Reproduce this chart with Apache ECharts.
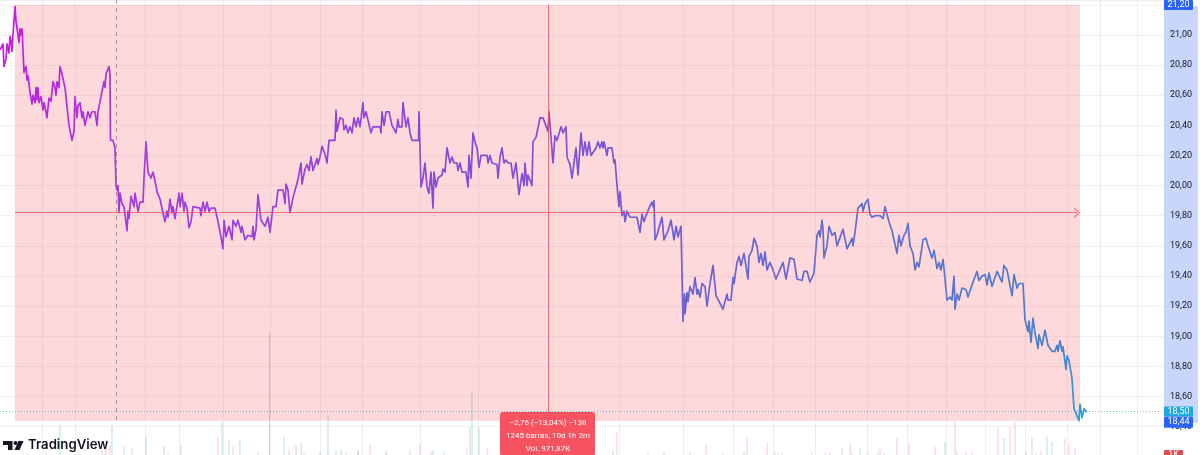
<!DOCTYPE html>
<html><head><meta charset="utf-8">
<style>html,body{margin:0;padding:0;background:#fff}#c{width:1200px;height:455px}</style>
<script src="https://cdn.jsdelivr.net/npm/echarts@6/dist/echarts.min.js"></script>
</head><body><div id="c"></div>
<script>
// [bar slot, price]
const priceTrace = [[0,20.9],[2,20.9],[3,20.94],[4,20.79],[5,20.79],[6,20.84],[7,20.94],[8,20.94],[9,20.88],[10,20.99],[11,20.96],[12,20.89],[13,21],[14,21],[15,21.19],[16,21.09],[17,21.09],[18,21],[19,20.95],[20,21.04],[21,21],[22,21.04],[23,20.9],[24,20.75],[25,20.74],[26,20.79],[27,20.7],[28,20.73],[29,20.73],[30,20.62],[32,20.54],[33,20.6],
[35,20.55],[36,20.65],[37,20.57],[38,20.65],[39,20.55],[41,20.59],[43,20.5],[44,20.55],[46,20.49],[47,20.45],[49,20.58],[51,20.56],[53,20.69],[55,20.65],[56,20.6],[57,20.69],[59,20.65],[60,20.79],[62,20.74],[63,20.74],[65,20.65],[67,20.65],[69,20.4],[71,20.39],[72,20.3],[74,20.36],[75,20.59],[77,20.45],[78,20.53],[80,20.55],[82,20.45],[83,20.49],[85,20.4],[88,20.49],[90,20.45],[92,20.49],[95,20.49],[97,20.4],[98,20.49],[100,20.49],[101,20.59],[103,20.59],[104,20.69],[105,20.65],[106,20.74],[108,20.74],[109,20.79],[110,20.74],[110.5,20.3],[113,20.3],[115,20.25],[116,20],[117,19.97],[118,20],[119,19.82],[120,19.95],[122,19.88],[124,19.86],[127,19.7],[128,19.83],[129,19.78],[131,19.93],[132,19.93],[134,19.86],[135,19.95],[138,19.83],[140,19.89],[143,19.89],[144,20.05],[146,20.29],[148,20.09],[151,20.05],[153,20.09],[154,20.09],[156,20],[157,19.96],[160,19.91],[163,19.82],[164,19.79],[165,19.76],[167,19.83],[168,19.79],[170,19.91],[172,19.82],[173,19.86],[175,19.78],[177,19.79],[179,19.95],[180,19.86],[182,19.95],[184,19.83],[185,19.89],[187,19.85],[189,19.72],[191,19.76],[193,19.86],[200,19.85],[201,19.8],[203,19.89],[205,19.83],[207,19.89],[209,19.83],[211,19.85],[215,19.85],[217,19.86],[218,19.76],[221,19.66],[223,19.58],[224,19.77],[226,19.66],[229,19.73],[232,19.64],[233,19.77],[236,19.73],[238,19.77],[241,19.69],[242,19.73],[245,19.64],[248,19.67],[252,19.66],[253,19.73],[254,19.64],[256,19.71],[258,19.94],[261,19.77],[265,19.73],[268,19.79],[270,19.69],[273,19.86],[276,19.86],[278,19.97],[283,19.97],[285,19.88],[286,20.01],[288,19.97],[290,19.82],[293,19.92],[295,19.93],[298,20.04],
[301,20.15],[302,20.01],[305,20.11],[307,20.14],[309,20.1],[311,20.19],[313,20.1],[315,20.1],[317,20.18],[318,20.14],[320,20.19],[322,20.26],[323,20.27],[325,20.21],[327,20.15],[329,20.3],[335,20.3],[336,20.5],[337,20.36],[340,20.45],[343,20.44],[344,20.37],[346,20.4],[348,20.35],[350,20.39],[352,20.35],[354,20.45],[356,20.39],[358,20.45],[360,20.39],[363,20.55],[364,20.45],[366,20.49],[368,20.49],[371,20.35],[373,20.39],[380,20.39],[381,20.35],[382,20.49],[384,20.4],[386,20.49],[389,20.49],[392,20.4],[396,20.35],[398,20.44],[399,20.39],[402,20.39],[403,20.55],[406,20.39],[408,20.45],[410,20.35],[412,20.3],[418.5,20.3],[419,20.49],[421,19.99],[423,20.05],[424,20.04],[425,20.15],[427,19.99],[429,19.95],[431,20.09],[433,19.85],[434,20.09],[436,19.99],[438,20.05],[442,20.07],[443,20.11],[445,20.09],[447,20.25],[450,20.15],[452,20.19],[454,20.15],[457,20.15],[458,20.1],[460,20.15],[462,20.09],[466,20.09],[468,19.99],[469,20.2],[471,20.05],[473,20.35],[475,20.29],[477,20.25],[479,20.12],[481,20.2],[487,20.2],[488,20.15],[490,20.2],[492,20.15],[497,20.14],[498,20.05],[500,20.19],[502,20.25],[504,20.15],[506,20.17],[508,20.15],[511,20.15],[513,20.05],[516,20.15],[519,19.94],[522,20.08],[524,20],[525,20.15],[527,20],[528,20.07],[532,20],[533,20.29],[536,20.32],[540,20.45],[543,20.45],[548,20.36],[549,20.49],[553,20.15],[555,20.33],[557,20.3],[561,20.39],[563,20.35],[566,20.39],[567,20.19],[570,20.14],[572,20.05],[576,20.25],[578,20.07],[581,20.35],[583,20.2],[585,20.29],[587,20.2],[589,20.29],[591,20.2],[593,20.2],[596,20.25],[598,20.29],
[600,20.25],[602,20.29],[603,20.25],[604,20.29],[606,20.28],[607,20.2],[608,20.25],[612,20.25],[614,20.15],[615,20.17],[617,20],[619,19.86],[620,19.96],[621,19.97],[622,19.8],[624,19.83],[625,19.76],[627,19.83],[628,19.83],[630,19.79],[633,19.79],[635,19.8],[637,19.79],[640,19.69],[642,19.81],[644,19.76],[646,19.8],[647,19.79],[649,19.85],[652,19.89],[653,19.86],[654,19.9],[655,19.64],[657,19.67],[659,19.66],[661,19.77],[662,19.79],[664,19.64],[668,19.7],[671,19.77],[674,19.64],[676,19.73],[678,19.66],[681,19.73],[682,19.73],[683,19.1],[684.5,19.28],[685,19.15],[687,19.29],[688,19.23],[690,19.33],[693,19.28],[695,19.39],[697,19.28],[698,19.31],[700,19.26],[702,19.35],[705,19.33],[707,19.2],[710,19.35],[713,19.47],[716,19.27],[718,19.26],[723,19.18],[727,19.28],[728,19.24],[731,19.24],[733,19.39],[734,19.35],[737,19.49],[739,19.53],[741,19.47],[744,19.55],[746,19.55],[748,19.38],[749,19.53],[752,19.57],[754,19.65],[757,19.6],[759,19.49],[761,19.55],[763,19.47],[765,19.56],[767,19.44],[770,19.49],[773,19.44],[776,19.38],[778,19.38],[783,19.49],[786,19.38],[790,19.52],[794,19.51],[797,19.38],[802,19.37],[804,19.43],[807,19.43],[810,19.36],[812,19.35],[814,19.42],[817,19.67],[819,19.7],[820,19.66],[822,19.77],[823,19.71],[824,19.52],[827,19.6],[829,19.73],[832,19.67],[835,19.69],[837,19.6],[843,19.71],[847,19.58],[852,19.65],[853,19.6],[855,19.69],[857,19.69],[858,19.85],[862,19.88],[863,19.83],[865,19.88],[868,19.91],[870,19.81],[872,19.79],[875,19.8],[880,19.8],
[883,19.78],[885,19.86],[887,19.87],[889,19.76],[892,19.7],[894,19.7],[897,19.55],[899,19.67],[901,19.6],[904,19.67],[906,19.69],[908,19.75],[910,19.6],[913,19.55],[915,19.44],[917,19.49],[919,19.46],[923,19.64],[926,19.65],[928,19.6],[932,19.52],[934,19.57],[937,19.45],[939,19.49],[941,19.44],[943,19.51],[944,19.45],[946,19.44],[947,19.24],[950,19.26],[952,19.24],[954,19.4],[955,19.18],[957,19.28],[959,19.24],[962,19.32],[966,19.31],[968,19.26],[973,19.36],[977,19.43],[979,19.37],[982,19.4],[985,19.41],[987,19.34],[989,19.42],[992,19.33],[994,19.34],[997,19.43],[999,19.43],[1002,19.36],[1004,19.47],[1007,19.44],[1009,19.43],[1012,19.27],[1014,19.41],[1017,19.32],[1019,19.35],[1023,19.35],[1025,19.11],[1028,19.03],[1029,19.1],[1031,18.96],[1033,19.12],[1035,19.02],[1038,18.92],[1039,19.01],[1042,18.94],[1045,19.04],[1048,18.94],[1052,18.9],[1055,18.9],[1057,18.94],[1058,18.9],[1060,18.97],[1062,18.9],[1063,18.93],[1066,18.78],[1067,18.87],[1069,18.84],[1072,18.72],[1073,18.71],[1074,18.52],[1076,18.53],[1079,18.44],[1080,18.55],[1082,18.46],[1084,18.52],[1086,18.5],[1087,18.5]];
// [bar slot, volume in thousands]
const volumeUp = [[14,6],[28,6],[60,64],[78,6],[112,62],[124,20],[132,18],[146,38],[164,22],[181,22],[222,70],[229,34],[240,34],[258,8],[269.5,246],[284,40],[301,28],[320,10],[328,82],[336,12],[341,14],[358,12],[386,8],[433,14],[470,60],[472,130],[479,58],[444,8],[530,8],[613,14],[744,10],[775,10],[782,8],[842,18],[852,8],[860,16],[878,8],[884,8],[945,30],[957,12],[1004,38],[1026,10],[1032,38],[1047,40],[1052,30]];
const volumeDown = [[46,8],[102,12],[106,16],[110,24],[146,4],[168,6],[218,40],[233,20],[289,14],[296,24],[304,8],[346,8],[358,10],[370,24],[386,10],[410,14],[420,26],[431,10],[467,16],[487,16],[510,8],[527,8],[617,48],[648,6],[664,12],[690,8],[706,24],[723,6],[747,38],[767,28],[778,6],[812,8],[825,8],[830,8],[850,28],[868,8],[880,16],[897,38],[909,28],[935,20],[955,72],[966,10],[972,8],[998,58],[1010,60],[1015,70],[1036,8],[1041,12],[1065,36],[1069,26],[1075,16]];
// tick and reference values
const priceTicks = { min: 18.2, top: 21.2317, step: 0.2 };
const rulerHigh = 21.20, rulerLow = 18.44, rulerMid = 19.82;
const rulerStart = 15, rulerEnd = 1080, rulerArrowEnd = 1077, rulerCentre = 548, rulerLabelPrice = 18.5;
const crosshairSlot = 116;
const lastPrice = 18.50;
const gridSlots = [42,75,145,179,223,270,320,362,420,478,619,683,733,773,815,867,907,946,985,1025,1067,1100,1137];
const rulerTexts = ['−2,76 (−13,04%) −138', '1245 barras, 10d 1h 2m', 'Vol. 971,87K'];
const tagTexts = { high: '21,20', last: '18,50', low: '18,44', vol: '1K' };

const RED = '#f7525f';
const fmt = v => v.toFixed(2).replace('.', ',');
const chart = echarts.init(document.getElementById('c'), null, {renderer:'canvas'});
const gradient = new echarts.graphic.LinearGradient(0,0,1,1,[
 {offset:0,color:'#cc18e0'},{offset:.13,color:'#a838e0'},{offset:.4,color:'#8c48d8'},
 {offset:.62,color:'#6e5fd2'},{offset:.8,color:'#5f72cc'},{offset:.95,color:'#4a80cc'},{offset:1,color:'#1ea8e0'}]);
const noAnim = {animation:false, silent:true};
chart.setOption({
 animation:false,
 backgroundColor:'#fff',
 grid:{left:0,top:0,width:1164,height:456.8,containLabel:false,outerBoundsMode:'none'},
 xAxis:{type:'value',min:0,max:1164,show:false},
 yAxis:[{type:'value',position:'right',min:priceTicks.min,max:priceTicks.top,interval:priceTicks.step,
   axisLine:{show:false},axisTick:{show:false},
   splitLine:{show:true,lineStyle:{color:'rgba(150,150,180,0.13)',width:1}},
   axisLabel:{show:true,color:'#131722',fontSize:9,fontFamily:'Roboto',margin:6,showMinLabel:false,showMaxLabel:false,formatter:fmt}},
  {type:'value',min:0,max:910,show:false,splitLine:{show:false}}],
 series:[
  {...noAnim,type:'line',name:'ruler',z:1,data:[],symbol:'none',
   markArea:{silent:true,itemStyle:{color:'rgba(247,82,95,0.22)'},data:[[{coord:[rulerStart,rulerHigh]},{coord:[rulerEnd,rulerLow]}]]},
   markLine:{silent:true,symbol:'none',label:{show:false},lineStyle:{color:'rgba(150,150,180,0.16)',type:'solid',width:1},
     data:gridSlots.map(x=>({xAxis:x}))}},
  {...noAnim,type:'bar',name:'up',z:2,yAxisIndex:1,barWidth:1,barGap:'-100%',data:volumeUp,itemStyle:{color:'rgba(34,160,140,0.32)'}},
  {...noAnim,type:'bar',name:'down',z:2,yAxisIndex:1,barWidth:1,barGap:'-100%',data:volumeDown,itemStyle:{color:'rgba(247,82,95,0.32)'}},
  {...noAnim,type:'line',name:'marks',z:3,data:[],symbol:'none',
   markLine:{silent:true,symbol:'none',label:{show:false},data:[
     [{coord:[rulerStart,rulerMid],lineStyle:{color:RED,width:1,type:'solid',opacity:.85},symbol:'none'},
      {coord:[rulerArrowEnd,rulerMid],symbol:'path://M0 10 L10 0 L20 10 L18.6 11.4 L10 2.8 L1.4 11.4Z',symbolSize:[10,6]}],
     [{coord:[rulerCentre,rulerHigh],lineStyle:{color:RED,width:1,type:'solid',opacity:.85}},
      {coord:[rulerCentre,rulerLabelPrice]}],
     [{coord:[crosshairSlot,priceTicks.top],lineStyle:{color:'rgba(130,95,110,0.6)',width:1,type:[4,4]}},
      {coord:[crosshairSlot,rulerLow]}],
     [{coord:[0,lastPrice],lineStyle:{color:'rgba(30,140,190,0.6)',width:1,type:[1,2]}},
      {coord:[1164,lastPrice]}]
   ]}},
  {...noAnim,type:'line',name:'price',z:4,data:priceTrace,symbol:'none',showSymbol:false,clip:false,
   lineStyle:{width:1.7,color:gradient,join:'round'}}
 ]
});
const yOf = p => chart.convertToPixel({yAxisIndex:0},p);
const tag = (y,h,w,fill,txt,z) => [
 {type:'rect',z:z,silent:true,shape:{x:1164,y:y,width:w,height:h,r:1},style:{fill:fill}},
 {type:'text',z:z+1,silent:true,style:{x:1164+w/2,y:y+h/2,text:txt,fill:'#fff',font:'9px Roboto',align:'center',verticalAlign:'middle'}}];
const cx = chart.convertToPixel({xAxisIndex:0},rulerCentre);
const els = [
 {type:'rect',z:-1,silent:true,shape:{x:1164,y:6,width:34,height:417},style:{fill:'#c8d6fc'}},
 ...tag(0,10,29,'#2962ff',tagTexts.high,50),
 ...tag(yOf(lastPrice)-5,10,29,'#1ea7e0',tagTexts.last,50),
 ...tag(yOf(rulerLow)-4,11,29,'#2962ff',tagTexts.low,52),
 ...tag(450,10,19,'#e04a4f',tagTexts.vol,50),
 {type:'rect',z:60,silent:true,shape:{x:500,y:412,width:95,height:44,r:3},style:{fill:RED}},
 ...rulerTexts.map((t,i)=>({type:'text',z:61,silent:true,style:{x:cx,y:422.5+i*13.3,text:t,fill:'#fff',font:'8px Roboto',align:'center',verticalAlign:'middle'}})),
 {type:'polygon',z:60,silent:true,shape:{points:[[3,441],[12.5,441],[12.5,450],[8,450],[8,445],[3,445]]},style:{fill:'#131722'}},
 {type:'polygon',z:60,silent:true,shape:{points:[[23.5,441],[19.5,450],[14.5,450],[18.5,441]]},style:{fill:'#131722'}},
 {type:'circle',z:60,silent:true,shape:{cx:15.5,cy:443,r:2},style:{fill:'#131722'}},
 {type:'text',z:60,silent:true,style:{x:28,y:445.5,text:'TradingView',fill:'#131722',font:'600 13.2px Inter',verticalAlign:'middle'}}
];
chart.setOption({graphic:{elements:els}});
</script></body></html>
